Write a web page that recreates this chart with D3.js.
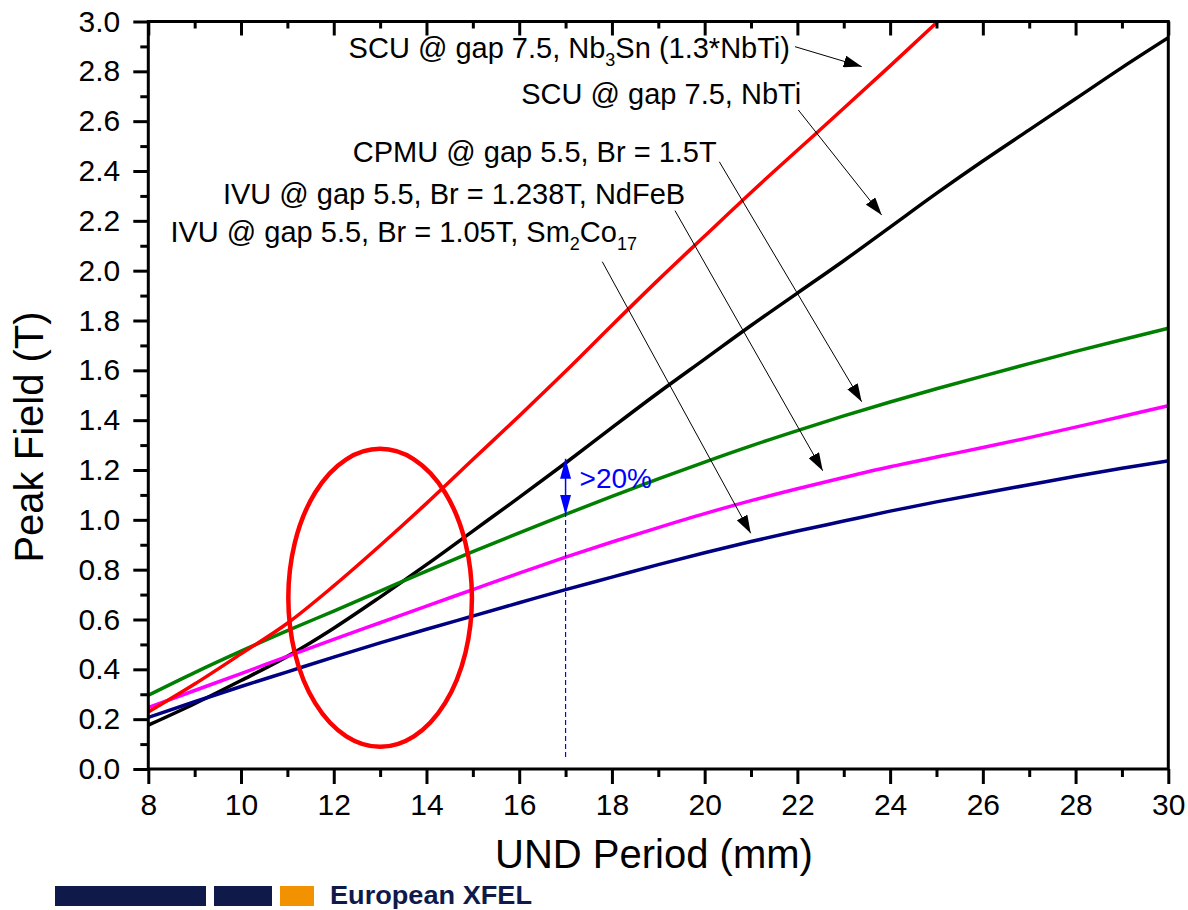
<!DOCTYPE html>
<html>
<head>
<meta charset="utf-8">
<script src="https://cdn.jsdelivr.net/npm/d3@7"></script>
<style>
  body { margin: 0; background: #fff; }
  svg { display: block; font-family: "Liberation Sans", Arial, sans-serif; }
</style>
</head>
<body>
<div id="chart"></div>
<script>
/** Undulator period (mm) */
const period = [8, 9, 10, 11, 12, 13, 14, 15, 16, 17, 18, 19, 20, 21, 22, 23, 24, 25, 26, 27, 28, 29, 30];

/** Peak field (T) per series */
const scuNb3Sn = [0.229, 0.341, 0.462, 0.585, 0.735, 0.897, 1.066, 1.242, 1.417, 1.596, 1.781, 1.963, 2.139, 2.314, 2.483, 2.652, 2.822, 2.995, 3.172, null, null, null, null];
const scuNbTi = [0.176, 0.262, 0.355, 0.452, 0.565, 0.69, 0.82, 0.955, 1.09, 1.228, 1.37, 1.51, 1.645, 1.78, 1.91, 2.04, 2.175, 2.31, 2.44, 2.565, 2.69, 2.815, 2.935];
const cpmu = [0.296, 0.387, 0.473, 0.555, 0.634, 0.714, 0.794, 0.872, 0.948, 1.022, 1.094, 1.164, 1.232, 1.297, 1.358, 1.417, 1.473, 1.526, 1.577, 1.627, 1.676, 1.723, 1.769];
const ivuNdFeB = [0.247, 0.315, 0.383, 0.452, 0.52, 0.587, 0.654, 0.72, 0.786, 0.85, 0.911, 0.969, 1.025, 1.077, 1.125, 1.17, 1.213, 1.252, 1.29, 1.33, 1.372, 1.415, 1.458];
const ivuSmCo = [0.207, 0.27, 0.331, 0.39, 0.449, 0.506, 0.561, 0.614, 0.667, 0.72, 0.77, 0.82, 0.868, 0.913, 0.955, 0.995, 1.035, 1.072, 1.107, 1.141, 1.175, 1.207, 1.237];

/** Tick values */
const xMajor = [8, 10, 12, 14, 16, 18, 20, 22, 24, 26, 28, 30];
const xMinor = [9, 11, 13, 15, 17, 19, 21, 23, 25, 27, 29];
const yMajor = [0, 0.2, 0.4, 0.6, 0.8, 1.0, 1.2, 1.4, 1.6, 1.8, 2.0, 2.2, 2.4, 2.6, 2.8, 3.0];
const yMinor = [0.1, 0.3, 0.5, 0.7, 0.9, 1.1, 1.3, 1.5, 1.7, 1.9, 2.1, 2.3, 2.5, 2.7, 2.9];

const series = [
  { values: scuNbTi, color: "#000000" },
  { values: cpmu, color: "#007f00" },
  { values: ivuNdFeB, color: "#ff00ff" },
  { values: ivuSmCo, color: "#000080" },
  { values: scuNb3Sn, color: "#ff0000" }
];

/** Labels: text parts, end x, baseline y in data units */
const labels = [
  { parts: [["SCU @ gap 7.5, Nb"], ["3", true], ["Sn (1.3*NbTi)"]], x: 21.84, y: 2.852 },
  { parts: [["SCU @ gap 7.5, NbTi"]], x: 22.08, y: 2.669 },
  { parts: [["CPMU @ gap 5.5, Br = 1.5T"]], x: 20.26, y: 2.436 },
  { parts: [["IVU @ gap 5.5, Br = 1.238T, NdFeB"]], x: 19.58, y: 2.267 },
  { parts: [["IVU @ gap 5.5, Br = 1.05T, Sm"], ["2", true], ["Co"], ["17", true]], x: 18.54, y: 2.115 }
];

/** Pointer arrows: from label to curve, data units */
const pointers = [
  [21.948, 2.899, 23.387, 2.819],
  [22.02, 2.645, 23.818, 2.223],
  [20.316, 2.437, 23.387, 1.474],
  [19.36, 2.241, 22.546, 1.197],
  [17.792, 2.036, 20.993, 0.946]
];

/** Highlight ellipse (centre / radii in data units) */
const ellipse = { cx: 13, cy: 0.687, rx: 1.98, ry: 0.598 };

/** The >20% marker at 17 mm */
const gapPeriod = 17;
const gapLow = 1.02;
const gapHigh = 1.245;
const gapFloor = 0.048;

const w = 1188, h = 910;
const margin = { top: 21.5, right: 19.7, bottom: 141, left: 148.3 };

const svg = d3.select("#chart")
  .append("svg")
  .attr("width", w)
  .attr("height", h);

const x = d3.scaleLinear().domain([8, 30]).range([margin.left, w - margin.right]);
const y = d3.scaleLinear().domain([0, 3]).range([h - margin.bottom, margin.top]);

const defs = svg.append("defs");
defs.append("clipPath").attr("id", "plot-clip")
  .append("rect")
  .attr("x", x(8)).attr("y", y(3))
  .attr("width", x(30) - x(8)).attr("height", y(0) - y(3));

function addMarker(id, color, len, wid) {
  defs.append("marker")
    .attr("id", id)
    .attr("markerUnits", "userSpaceOnUse")
    .attr("viewBox", `0 ${-wid / 2} ${len} ${wid}`)
    .attr("refX", len).attr("refY", 0)
    .attr("markerWidth", len).attr("markerHeight", wid)
    .attr("orient", "auto-start-reverse")
    .append("path")
    .attr("d", `M0,${-wid / 2}L${len},0L0,${wid / 2}Z`)
    .attr("fill", color);
}
addMarker("arrow-black", "#000", 18, 12);
addMarker("arrow-blue", "#0000ff", 20, 11);

/** Curves */
const line = d3.line()
  .defined(d => d[1] != null)
  .x(d => x(d[0]))
  .y(d => y(d[1]))
  .curve(d3.curveMonotoneX);

const curves = svg.append("g").attr("clip-path", "url(#plot-clip)");
series.forEach(s => {
  curves.append("path")
    .datum(period.map((p, i) => [p, s.values[i]]))
    .attr("fill", "none")
    .attr("stroke", s.color)
    .attr("stroke-width", 3.5)
    .attr("d", line);
});

/** Ellipse */
svg.append("ellipse")
  .attr("cx", x(ellipse.cx))
  .attr("cy", y(ellipse.cy))
  .attr("rx", x(ellipse.cx + ellipse.rx) - x(ellipse.cx))
  .attr("ry", y(ellipse.cy - ellipse.ry) - y(ellipse.cy))
  .attr("fill", "none")
  .attr("stroke", "#ff0000")
  .attr("stroke-width", 4.5);

/** >20% marker */
svg.append("line")
  .attr("x1", x(gapPeriod)).attr("x2", x(gapPeriod))
  .attr("y1", y(gapFloor)).attr("y2", y(gapLow))
  .attr("stroke", "#0000ff")
  .attr("stroke-width", 1.2)
  .attr("stroke-dasharray", "5,3");

svg.append("line")
  .attr("x1", x(gapPeriod)).attr("x2", x(gapPeriod))
  .attr("y1", y(gapLow)).attr("y2", y(gapHigh))
  .attr("stroke", "#0000ff")
  .attr("stroke-width", 1.5)
  .attr("marker-start", "url(#arrow-blue)")
  .attr("marker-end", "url(#arrow-blue)");

svg.append("text")
  .attr("x", x(gapPeriod) + 14)
  .attr("y", 488)
  .attr("fill", "#0000ff")
  .style("font-size", "28px")
  .text(">20%");

/** Labels */
labels.forEach(l => {
  const t = svg.append("text")
    .attr("x", x(l.x))
    .attr("y", y(l.y))
    .attr("text-anchor", "end")
    .attr("fill", "#000")
    .style("font-size", "29px");
  let shifted = false;
  l.parts.forEach(([str, sub]) => {
    const ts = t.append("tspan").text(str);
    if (sub && !shifted) { ts.attr("dy", 8).style("font-size", "18px"); shifted = true; }
    else if (sub) { ts.style("font-size", "18px"); }
    else if (shifted) { ts.attr("dy", -8); shifted = false; }
  });
});

/** Pointer arrows */
svg.append("g").selectAll("line")
  .data(pointers)
  .enter()
  .append("line")
  .attr("x1", d => x(d[0])).attr("y1", d => y(d[1]))
  .attr("x2", d => x(d[2])).attr("y2", d => y(d[3]))
  .attr("stroke", "#000")
  .attr("stroke-width", 1)
  .attr("marker-end", "url(#arrow-black)");

/** Axes */
function styleAxis(g) {
  g.select(".domain").remove();
  g.selectAll(".tick line").attr("stroke", "#000").attr("stroke-width", 3);
  g.selectAll(".tick text").attr("fill", "#000").style("font-size", "30px").style("font-family", "inherit");
}

// bottom, major + minor (outward)
svg.append("g")
  .attr("transform", `translate(0,${y(0)})`)
  .call(d3.axisBottom(x).tickValues(xMajor).tickSize(15).tickPadding(10).tickFormat(d3.format("d")))
  .call(styleAxis);
svg.append("g")
  .attr("transform", `translate(0,${y(0)})`)
  .call(d3.axisBottom(x).tickValues(xMinor).tickSize(8).tickFormat(""))
  .call(styleAxis);

// top, inward ticks, no labels
svg.append("g")
  .attr("transform", `translate(0,${y(3)})`)
  .call(d3.axisBottom(x).tickValues(xMajor).tickSize(14).tickFormat(""))
  .call(styleAxis);
svg.append("g")
  .attr("transform", `translate(0,${y(3)})`)
  .call(d3.axisBottom(x).tickValues(xMinor).tickSize(7).tickFormat(""))
  .call(styleAxis);

// left, major + minor (outward)
svg.append("g")
  .attr("transform", `translate(${x(8)},0)`)
  .call(d3.axisLeft(y).tickValues(yMajor).tickSize(15).tickPadding(13).tickFormat(d3.format(".1f")))
  .call(styleAxis);
svg.append("g")
  .attr("transform", `translate(${x(8)},0)`)
  .call(d3.axisLeft(y).tickValues(yMinor).tickSize(8).tickFormat(""))
  .call(styleAxis);

// frame
svg.append("rect")
  .attr("x", x(8)).attr("y", y(3))
  .attr("width", x(30) - x(8)).attr("height", y(0) - y(3))
  .attr("fill", "none")
  .attr("stroke", "#000")
  .attr("stroke-width", 3);

/** Axis titles */
svg.append("text")
  .attr("x", 654)
  .attr("y", 868)
  .attr("text-anchor", "middle")
  .style("font-size", "40px")
  .text("UND Period (mm)");

svg.append("text")
  .attr("transform", "translate(43,437) rotate(-90)")
  .attr("text-anchor", "middle")
  .style("font-size", "40px")
  .text("Peak Field (T)");

/** European XFEL footer */
const logo = svg.append("g");
logo.append("rect").attr("x", 55).attr("y", 886).attr("width", 151).attr("height", 20).attr("fill", "#0f1a4a");
logo.append("rect").attr("x", 214).attr("y", 886).attr("width", 58).attr("height", 20).attr("fill", "#0f1a4a");
logo.append("rect").attr("x", 280).attr("y", 886).attr("width", 34).attr("height", 20).attr("fill", "#f39200");
logo.append("text")
  .attr("x", 330).attr("y", 904)
  .attr("fill", "#0f1a4a")
  .style("font-size", "26px")
  .style("font-weight", "bold")
  .attr("textLength", 202)
  .attr("lengthAdjust", "spacingAndGlyphs")
  .text("European XFEL");
</script>
</body>
</html>
